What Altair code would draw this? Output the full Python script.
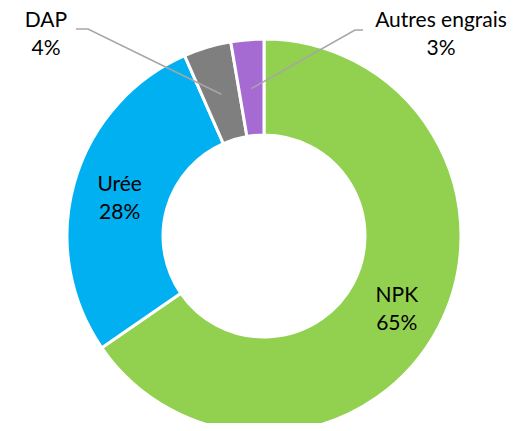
import altair as alt
import pandas as pd
import numpy as np

categories = ["NPK", "Urée", "DAP", "Autres engrais"]
values = [65.4, 28.0, 3.9, 2.7]
pct_labels = ["65%", "28%", "4%", "3%"]
colors = ["#92D050", "#00B0F0", "#7F7F7F", "#A66BD3"]

# layout (pixels in chart coordinates)
W, H = 512, 415
CX, CY = 256, 228
R_OUT, R_IN = 197, 101
R_LABEL = 150
R_ANCHOR = 148
TEXT_DY = -10

df = pd.DataFrame({
    "cat": categories,
    "val": values,
    "idx": list(range(len(categories))),
    "label": [f"{c}\n{p}" for c, p in zip(categories, pct_labels)],
})

theta = alt.Theta("val:Q", stack=True)
order = alt.Order("idx:Q")
color = alt.Color("cat:N", scale=alt.Scale(domain=categories, range=colors), legend=None, sort=None)

arcs = alt.Chart(df).mark_arc(
    outerRadius=R_OUT, innerRadius=R_IN, stroke="white", strokeWidth=3
).encode(theta=theta, order=order, color=color, x=alt.value(CX), y=alt.value(CY))

inner_text = alt.Chart(df).transform_filter("datum.idx < 2").mark_text(
    radius=R_LABEL, font="Lato", fontSize=21, lineBreak="\n", lineHeight=28,
    baseline="middle", align="center", color="black", dy=TEXT_DY
).encode(theta=theta, order=order, text="label:N", x=alt.value(CX), y=alt.value(CY))

# outer labels for small slices
total = sum(values)
cum = np.cumsum([0] + values[:-1])
mid_angles = [(c + v / 2) / total * 2 * np.pi for c, v in zip(cum, values)]
anchors = [(CX + R_ANCHOR * np.sin(a), CY - R_ANCHOR * np.cos(a)) for a in mid_angles]

outer_pos = {2: (38, 23), 3: (433, 23)}
elbows = {2: [(68, 21), (80, 21)], 3: [(355, 22), (347, 22)]}

lab_rows = []
line_rows = []
for i, (lx, ly) in outer_pos.items():
    lab_rows.append({"px": lx, "py": ly, "label": df.loc[i, "label"]})
    pts = elbows[i] + [anchors[i]]
    for k, (px, py) in enumerate(pts):
        line_rows.append({"px": px, "py": py, "k": k, "g": categories[i]})

lab_df = pd.DataFrame(lab_rows)
line_df = pd.DataFrame(line_rows)

leaders = alt.Chart(line_df).mark_line(color="#A6A6A6", strokeWidth=1.5).encode(
    x=alt.X("px:Q", scale=None, axis=None),
    y=alt.Y("py:Q", scale=None, axis=None),
    order="k:Q",
    detail="g:N",
)

outer_text = alt.Chart(lab_df).mark_text(
    font="Lato", fontSize=21, lineBreak="\n", lineHeight=28,
    baseline="middle", align="center", color="black", dy=TEXT_DY
).encode(
    x=alt.X("px:Q", scale=None, axis=None),
    y=alt.Y("py:Q", scale=None, axis=None),
    text="label:N",
)

chart = alt.layer(arcs, leaders, inner_text, outer_text).properties(
    width=W, height=H, padding=0, autosize=alt.AutoSizeParams(type="none")
).configure_view(stroke=None)

chart.save("out.html", embed_options={"renderer": "svg", "actions": False})
